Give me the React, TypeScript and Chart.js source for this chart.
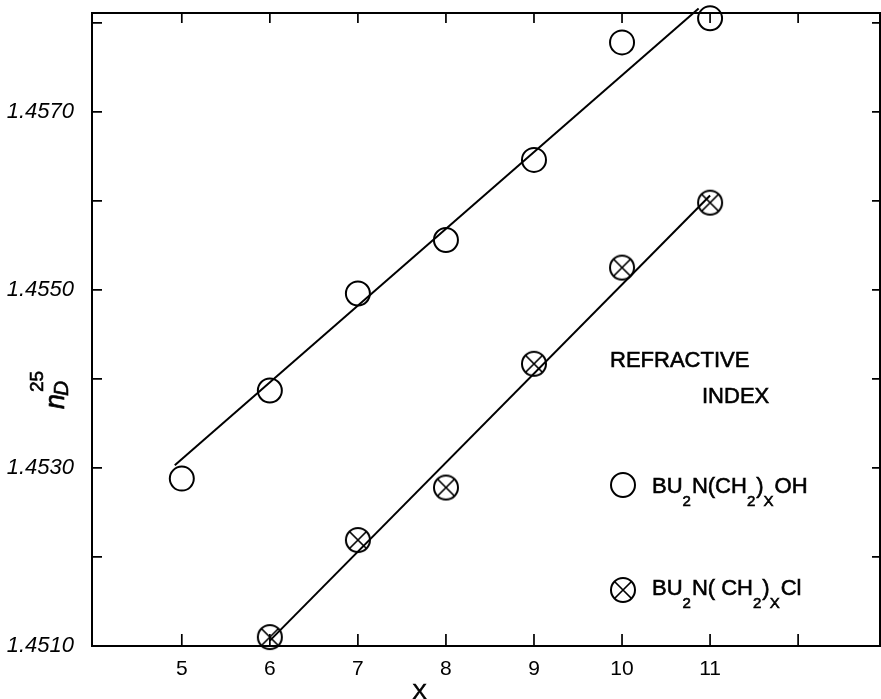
import React, { useEffect, useRef } from "react";
import { Chart, registerables } from "chart.js";
Chart.register(...registerables);

// ---- data ----
const ohX = [5, 6, 7, 8, 9, 10, 11];
const ohValues = [1.45288, 1.45387, 1.45496, 1.45556, 1.45646, 1.45778, 1.45805];
const clX = [6, 7, 8, 9, 10, 11];
const clValues = [1.4511, 1.45219, 1.45278, 1.45417, 1.45525, 1.45598];
const ohFitX = [4.92, 10.87];
const ohFitY = [1.45303, 1.45816];
const clFitX = [6.0, 11.0];
const clFitY = [1.45106, 1.45606];
const xTickValues = [5, 6, 7, 8, 9, 10, 11, 12];
const xTickLabels = ["5", "6", "7", "8", "9", "10", "11"];
const yTickValues = [1.451, 1.452, 1.453, 1.454, 1.455, 1.456, 1.457, 1.458];
const yTickLabels = ["1.4510", "1.4530", "1.4550", "1.4570"];
const legendTitle = ["REFRACTIVE", "INDEX"];
const legendOH = [
  { t: "BU" }, { t: "2", sub: true }, { t: "N(CH" }, { t: "2", sub: true }, { t: ")" }, { t: "X", sub: true }, { t: "OH" },
];
const legendCl = [
  { t: "BU" }, { t: "2", sub: true }, { t: "N( CH" }, { t: "2", sub: true }, { t: ")" }, { t: "X", sub: true }, { t: "Cl" },
];
const xTitle = "X";
const X_MIN = 3.98;
const X_MAX = 12.93;
const Y_MIN = 1.451;
const Y_MAX = 1.45811;

const FONT = '"Liberation Sans", Arial, sans-serif';

function makeCrossMarker(): HTMLCanvasElement {
  const c = document.createElement("canvas");
  c.width = 28;
  c.height = 28;
  const g = c.getContext("2d")!;
  g.strokeStyle = "#000";
  g.lineWidth = 2;
  g.beginPath();
  g.arc(14, 14, 12, 0, Math.PI * 2);
  g.stroke();
  const d = 8.5;
  g.lineWidth = 1.7;
  g.beginPath();
  g.moveTo(14 - d, 14 - d);
  g.lineTo(14 + d, 14 + d);
  g.moveTo(14 + d, 14 - d);
  g.lineTo(14 - d, 14 + d);
  g.stroke();
  return c;
}

function boldText(ctx: CanvasRenderingContext2D, t: string, x: number, y: number) {
  ctx.fillText(t, x, y);
  ctx.strokeText(t, x, y);
}

function drawFormula(ctx: CanvasRenderingContext2D, parts: { t: string; sub?: boolean }[], x: number, baseline: number) {
  let cx = x;
  for (const p of parts) {
    ctx.font = p.sub ? `15px ${FONT}` : `22px ${FONT}`;
    boldText(ctx, p.t, cx, p.sub ? baseline + 13 : baseline);
    cx += ctx.measureText(p.t).width + (p.sub ? 1 : 0);
  }
}

const zeroPad = (s: any) => {
  s.paddingTop = 0;
  s.paddingBottom = 0;
  s.paddingLeft = 0;
  s.paddingRight = 0;
};

export default function App() {
  const ref = useRef<HTMLCanvasElement>(null);
  useEffect(() => {
    const canvas = ref.current!;
    const marker = makeCrossMarker();

    const annotate = {
      id: "annotate",
      afterDatasetsDraw(chart: any) {
        const { ctx, chartArea: ca, scales } = chart;
        const xs = scales.x;
        const ys = scales.y;
        ctx.save();
        ctx.strokeStyle = "#000";
        ctx.fillStyle = "#000";
        ctx.lineWidth = 2;
        ctx.strokeRect(ca.left, ca.top, ca.right - ca.left, ca.bottom - ca.top);
        ctx.lineWidth = 1.7;
        ctx.beginPath();
        for (const v of xTickValues) {
          const px = xs.getPixelForValue(v);
          ctx.moveTo(px, ca.bottom);
          ctx.lineTo(px, ca.bottom - 12);
          ctx.moveTo(px, ca.top);
          ctx.lineTo(px, ca.top + 10);
        }
        for (const v of yTickValues) {
          const py = ys.getPixelForValue(v);
          ctx.moveTo(ca.left, py);
          ctx.lineTo(ca.left + 10, py);
          ctx.moveTo(ca.right, py);
          ctx.lineTo(ca.right - 8, py);
        }
        ctx.stroke();

        // legend title
        ctx.lineWidth = 0.6;
        ctx.textAlign = "left";
        ctx.textBaseline = "alphabetic";
        ctx.font = `22px ${FONT}`;
        boldText(ctx, legendTitle[0], ca.left + 518, ca.top + 354);
        boldText(ctx, legendTitle[1], ca.left + 610, ca.top + 390);

        // legend entries
        ctx.lineWidth = 2;
        ctx.beginPath();
        ctx.arc(ca.left + 531, ca.top + 472, 12, 0, Math.PI * 2);
        ctx.stroke();
        ctx.drawImage(marker, ca.left + 531 - 14, ca.top + 577 - 14);
        ctx.lineWidth = 0.6;
        drawFormula(ctx, legendOH, ca.left + 560, ca.top + 480);
        drawFormula(ctx, legendCl, ca.left + 560, ca.top + 582);

        // x title
        ctx.font = `22px ${FONT}`;
        ctx.textAlign = "center";
        ctx.textBaseline = "middle";
        boldText(ctx, xTitle, xs.getPixelForValue(7.7), ca.bottom + 47);

        // y title n_D^25 rotated
        ctx.save();
        ctx.translate(64, 409);
        ctx.rotate(-Math.PI / 2);
        ctx.textAlign = "left";
        ctx.textBaseline = "alphabetic";
        ctx.font = `italic 27px ${FONT}`;
        boldText(ctx, "n", 0, 0);
        ctx.font = `italic 21px ${FONT}`;
        boldText(ctx, "D", 13, 4);
        ctx.font = `19px ${FONT}`;
        boldText(ctx, "25", 17, -21);
        ctx.restore();

        ctx.restore();
      },
    };

    const chart = new Chart(canvas, {
      type: "scatter",
      data: {
        datasets: [
          {
            label: "OH fit",
            data: ohFitX.map((x, i) => ({ x, y: ohFitY[i] })),
            showLine: true,
            borderColor: "#000",
            borderWidth: 2,
            pointRadius: 0,
            clip: false,
          } as any,
          {
            label: "Cl fit",
            data: clFitX.map((x, i) => ({ x, y: clFitY[i] })),
            showLine: true,
            borderColor: "#000",
            borderWidth: 2,
            pointRadius: 0,
            clip: false,
          },
          {
            label: "BU2N(CH2)xOH",
            data: ohX.map((x, i) => ({ x, y: ohValues[i] })),
            pointStyle: "circle",
            pointRadius: 12,
            borderColor: "#000",
            borderWidth: 2,
            backgroundColor: "rgba(0,0,0,0)",
            clip: false,
          },
          {
            label: "BU2N(CH2)xCl",
            data: clX.map((x, i) => ({ x, y: clValues[i] })),
            pointStyle: marker,
            pointRadius: 12,
            borderColor: "#000",
            backgroundColor: "rgba(0,0,0,0)",
            clip: false,
          },
        ],
      },
      options: {
        responsive: false,
        animation: false,
        events: [],
        layout: { padding: { top: 13, right: 1, left: 0, bottom: 0 }, autoPadding: false },
        plugins: { legend: { display: false }, tooltip: { enabled: false } },
        scales: {
          x: {
            type: "linear",
            min: X_MIN,
            max: X_MAX,
            afterFit: (s: any) => {
              s.height = 53;
              zeroPad(s);
            },
            grid: { display: false },
            border: { display: false },
            ticks: {
              stepSize: 1,
              autoSkip: false,
              maxRotation: 0,
              padding: 3,
              color: "#000",
              font: { family: FONT, size: 21 },
              callback: (v: any) => {
                const r = Math.round(v);
                return Math.abs(v - r) < 1e-6 && xTickLabels.includes(String(r)) ? String(r) : "";
              },
            },
          },
          y: {
            type: "linear",
            min: Y_MIN,
            max: Y_MAX,
            afterFit: (s: any) => {
              s.width = 92;
              zeroPad(s);
            },
            grid: { display: false },
            border: { display: false },
            ticks: {
              stepSize: 0.001,
              autoSkip: false,
              padding: 10,
              color: "#000",
              font: { family: FONT, size: 22, style: "italic" },
              callback: (v: any) => {
                const s = Number(v).toFixed(4);
                return yTickLabels.includes(s) ? s : "";
              },
            },
          },
        },
      } as any,
      plugins: [annotate],
    });
    return () => chart.destroy();
  }, []);

  return (
    <div style={{ position: "fixed", left: 0, top: 0, width: 881, height: 699, background: "#fff" }}>
      <canvas ref={ref} width={881} height={699} style={{ display: "block" }} />
    </div>
  );
}
